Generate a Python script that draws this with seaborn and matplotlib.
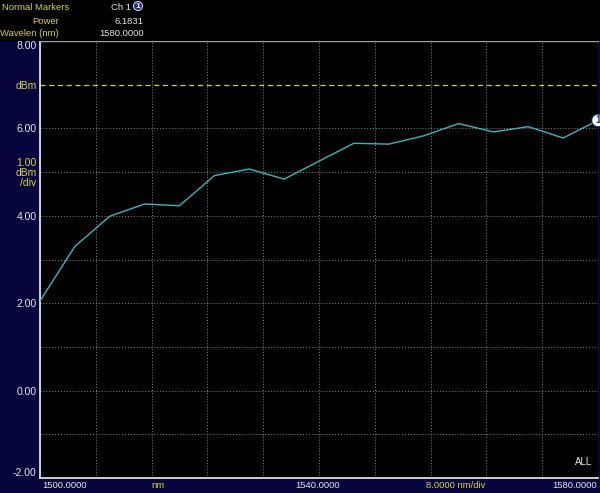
import matplotlib
matplotlib.use('Agg')
import numpy as np
import pandas as pd
import seaborn as sns
import matplotlib.pyplot as plt
from matplotlib.patches import Rectangle

# trace, 5 nm steps
wavelength_nm = [1500, 1505, 1510, 1515, 1520, 1525, 1530, 1535, 1540,
                 1545, 1550, 1555, 1560, 1565, 1570, 1575, 1580]
power_dbm = [2.05, 3.30, 3.99, 4.27, 4.23, 4.92, 5.07, 4.84, 5.25,
             5.66, 5.64, 5.83, 6.11, 5.92, 6.04, 5.78, 6.1831]

y_ticks = [-2, -1, 0, 1, 2, 3, 4, 5, 6, 7, 8]
y_tick_labels = ['-2.00', '', '0.00', '', '2.00', '', '4.00', '1.00\ndBm\n/div', '6.00', 'dBm', '8.00']
x_grid = [1500, 1508, 1516, 1524, 1532, 1540, 1548, 1556, 1564, 1572, 1580]

marker_power = '6.1831'
marker_wavelength = '1580.0000'
ref_level = 7

NAVY = '#06063c'
YELLOW = '#d6d24a'
WHITE = '#e6e6e6'
GRID = '#8c8c8c'
TRACE = '#38b6be'

sns.set_theme(style='dark')
plt.rcParams['font.family'] = ['Liberation Sans', 'DejaVu Sans']

W, H = 600, 493
fig = plt.figure(figsize=(W / 100, H / 100), dpi=100, facecolor=NAVY)


def px(x, y):
    return x / W, 1 - y / H


# black header band
fig.patches.append(Rectangle((0, 1 - 41 / H), 1, 41 / H, transform=fig.transFigure,
                             facecolor='black', edgecolor='none', zorder=0))

ax = fig.add_axes([40 / W, 15 / H, 558 / W, 437 / H])
ax.set_facecolor('black')

df = pd.DataFrame({'wavelength': wavelength_nm, 'power': power_dbm})
sns.lineplot(data=df, x='wavelength', y='power', ax=ax, color=TRACE, lw=1.0, zorder=3)

ax.set_xlim(1500, 1580)
ax.set_ylim(-2, 8)
ax.set_xticks(x_grid)
ax.set_xticklabels([])
ax.set_yticks(y_ticks)
ax.set_yticklabels(y_tick_labels)
ax.tick_params(axis='both', length=0, pad=2.5)
ax.tick_params(axis='y', labelsize=7.5)
ax.set_xlabel('')
ax.set_ylabel('')

for lab, txt in zip(ax.get_yticklabels(), y_tick_labels):
    numeric = txt[:1].isdigit() or txt.startswith('-')
    lab.set_color(WHITE if numeric and '\n' not in txt else YELLOW)
    lab.set_linespacing(1.0)
ax.get_yticklabels()[0].set_verticalalignment('bottom')
ax.get_yticklabels()[-1].set_verticalalignment('top')

ax.grid(True, color=GRID, ls=(0, (1, 2)), lw=0.7)
ax.yaxis.get_gridlines()[y_ticks.index(ref_level)].set_visible(False)
ax.axhline(ref_level, color=YELLOW, ls=(0, (4, 3)), lw=0.9, zorder=2)

for side in ['left', 'bottom']:
    ax.spines[side].set_color('#f0f0f0')
    ax.spines[side].set_linewidth(1.2)
ax.spines['top'].set_color('#a0a0a0')
ax.spines['top'].set_linewidth(1.0)
ax.spines['right'].set_visible(False)

# marker on the trace
ax.text(wavelength_nm[-1], power_dbm[-1], '1', ha='center', va='center', fontsize=7,
        fontweight='bold', color='#1c2a8a', clip_on=False, zorder=5,
        bbox=dict(boxstyle='circle,pad=0.12', fc='white', ec='#1c2a8a', lw=0.6))
ax.text(0.99, 0.025, 'ALL', transform=ax.transAxes, ha='right', va='bottom',
        color=WHITE, fontsize=7)

# header
fs = 6.8
fig.text(*px(2, 7), 'Normal Markers', color=YELLOW, fontsize=fs, ha='left', va='center')
fig.text(*px(131, 7), 'Ch 1', color=WHITE, fontsize=fs, ha='right', va='center')
fig.text(*px(138, 6), '1', color='white', fontsize=6, fontweight='bold', ha='center', va='center',
         bbox=dict(boxstyle='circle,pad=0.12', fc='#1c2a9a', ec='white', lw=0.6))
fig.text(*px(59, 21), 'Power', color=YELLOW, fontsize=fs, ha='right', va='center')
fig.text(*px(143, 21), marker_power, color=WHITE, fontsize=fs, ha='right', va='center')
fig.text(*px(59, 34), 'Wavelen (nm)', color=YELLOW, fontsize=fs, ha='right', va='center')
fig.text(*px(144, 34), marker_wavelength, color=WHITE, fontsize=fs, ha='right', va='center')

# bottom strip
fb = 6.8
fig.text(*px(42, 485), '1500.0000', color=WHITE, fontsize=fb, ha='left', va='center')
fig.text(*px(158, 485), 'nm', color=YELLOW, fontsize=fb, ha='center', va='center')
fig.text(*px(318, 485), '1540.0000', color=WHITE, fontsize=fb, ha='center', va='center')
fig.text(*px(456, 485), '8.0000 nm/div', color=YELLOW, fontsize=fb, ha='center', va='center')
fig.text(*px(597, 485), '1580.0000', color=WHITE, fontsize=fb, ha='right', va='center')

fig.savefig('out.png', dpi=100, facecolor=NAVY)
